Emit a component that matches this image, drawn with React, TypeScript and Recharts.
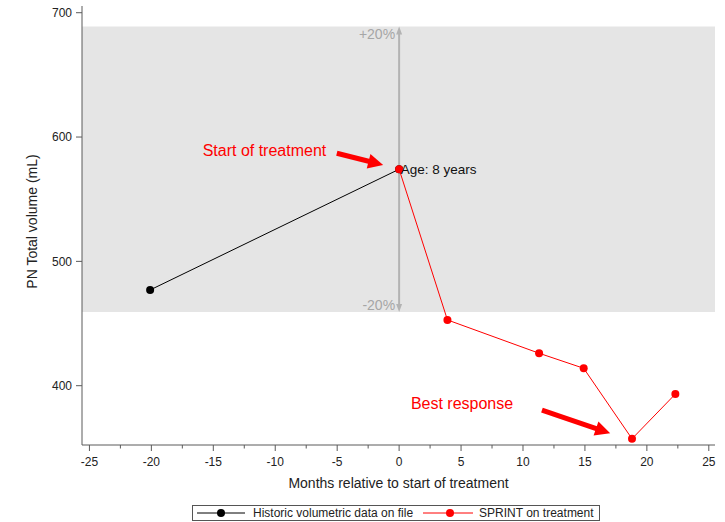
import React from 'react';
import {
  LineChart,
  Line,
  XAxis,
  YAxis,
  ReferenceArea,
  ReferenceLine,
  ReferenceDot,
} from 'recharts';

// ── Data ────────────────────────────────────────────────────────────────
const historic = [
  { x: -20.1, y: 477.0 },
  { x: 0, y: 574.1 },
];

const sprint = [
  { x: 0, y: 574.1 },
  { x: 3.9, y: 452.9 },
  { x: 11.3, y: 426.1 },
  { x: 14.9, y: 414.0 },
  { x: 18.8, y: 357.3 },
  { x: 22.3, y: 393.3 },
];

const seriesNames = ['Historic volumetric data on file', 'SPRINT on treatment'];
const seriesColors = ['#000000', '#ff0000'];

const xTicks = [
  -25, -22.5, -20, -17.5, -15, -12.5, -10, -7.5, -5, -2.5, 0, 2.5, 5, 7.5, 10, 12.5, 15, 17.5,
  20, 22.5, 25,
];
const xLabels = [-25, -20, -15, -10, -5, 0, 5, 10, 15, 20, 25];
const yTicks = [400, 500, 600, 700];

const baseline = 574.1;
const bandPct = 0.2;
const bandLabels = ['+20%', '-20%'];

const notes = [
  { text: 'Start of treatment', x: -15.86, y: 588.8 },
  { text: 'Best response', x: 0.95, y: 385.3 },
];
const ageNote = { text: 'Age: 8 years', x: 0.13, y: 574.1 };

const arrows = [
  { from: { x: -5.03, y: 587.0 }, to: { x: -1.29, y: 577.6 } },
  { from: { x: 11.53, y: 380.4 }, to: { x: 17.04, y: 361.7 } },
];

const FONT = '"Liberation Sans", Arial, Helvetica, sans-serif';
const AXIS = '#5a5a5a';

const XTick = (props: any) => {
  const { x, y, payload } = props;
  const v = payload.value;
  const major = xLabels.includes(v);
  return (
    <g>
      <line x1={x} x2={x} y1={y} y2={y + (major ? 6 : 3.5)} stroke={AXIS} />
      {major && (
        <text x={x} y={y + 17} textAnchor="middle" dominantBaseline="central" fontSize={12} fill="#222">
          {v}
        </text>
      )}
    </g>
  );
};

const redArrow = (p: any) => {
  const { x1, y1, x2, y2 } = p;
  const dx = x2 - x1;
  const dy = y2 - y1;
  const len = Math.hypot(dx, dy);
  const ux = dx / len;
  const uy = dy / len;
  const nx = -uy;
  const ny = ux;
  const L = 15;
  const W = 7.5;
  const bx = x2 - ux * L;
  const by = y2 - uy * L;
  return (
    <g>
      <line x1={x1} y1={y1} x2={bx + ux} y2={by + uy} stroke="#ff0000" strokeWidth={5} />
      <polygon
        points={`${x2},${y2} ${bx + nx * W},${by + ny * W} ${bx - nx * W},${by - ny * W}`}
        fill="#ff0000"
      />
    </g>
  );
};

const bandArrow = (p: any) => {
  const { x1, y1, y2 } = p;
  const top = Math.min(y1, y2);
  const bottom = Math.max(y1, y2);
  const c = '#b3b3b3';
  return (
    <g>
      <line x1={x1} x2={x1} y1={top + 6} y2={bottom - 6} stroke={c} strokeWidth={2} />
      <polygon points={`${x1},${top} ${x1 - 3},${top + 8} ${x1 + 3},${top + 8}`} fill={c} />
      <polygon points={`${x1},${bottom} ${x1 - 3},${bottom - 8} ${x1 + 3},${bottom - 8}`} fill={c} />
      <text x={x1 - 4} y={top + 8} textAnchor="end" dominantBaseline="central" fontSize={14} fill="#a6a6a6">
        {bandLabels[0]}
      </text>
      <text x={x1 - 4} y={bottom - 7} textAnchor="end" dominantBaseline="central" fontSize={14} fill="#a6a6a6">
        {bandLabels[1]}
      </text>
    </g>
  );
};

const noteText = (text: string, size: number, color: string) => (p: any) => (
  <text x={p.cx} y={p.cy} dominantBaseline="central" fontSize={size} fill={color}>
    {text}
  </text>
);

export default function App() {
  const bandHigh = baseline * (1 + bandPct);
  const bandLow = baseline * (1 - bandPct);

  return (
    <div style={{ position: 'absolute', left: 0, top: 0, width: 725, height: 522, fontFamily: FONT, background: '#fff' }}>
      <LineChart
        width={725}
        height={522}
        margin={{ top: 6, right: 10, bottom: 47, left: 0 }}
        style={{ fontFamily: FONT }}
      >
        <XAxis
          type="number"
          dataKey="x"
          domain={[-25.6, 25.5]}
          ticks={xTicks}
          interval={0}
          allowDataOverflow
          height={30}
          tick={<XTick />}
          tickSize={0}
          tickMargin={0}
          tickLine={false}
          axisLine={{ stroke: AXIS }}
          label={{
            content: (p: any) => {
              const vb = p.viewBox || { x: 82, y: 445, width: 633 };
              return (
                <text x={vb.x + vb.width / 2} y={vb.y + 38} textAnchor="middle" dominantBaseline="central" fontSize={14} fill="#222">
                  Months relative to start of treatment
                </text>
              );
            },
          }}
        />
        <YAxis
          type="number"
          domain={[352.3, 705.4]}
          ticks={yTicks}
          allowDataOverflow
          width={82}
          tickSize={6}
          tickMargin={4}
          tick={{ fontSize: 12, fill: '#222' }}
          tickLine={{ stroke: AXIS }}
          axisLine={{ stroke: AXIS }}
          label={{
            content: (p: any) => {
              const vb = p.viewBox || { x: 0, y: 6, height: 439 };
              const cx = 32;
              const cy = vb.y + vb.height / 2 - 4;
              return (
                <text x={cx} y={cy} transform={`rotate(-90 ${cx} ${cy})`} textAnchor="middle" dominantBaseline="central" fontSize={14} fill="#222">
                  PN Total volume (mL)
                </text>
              );
            },
          }}
        />
        <ReferenceArea y1={bandLow} y2={bandHigh} fill="#e5e5e5" fillOpacity={1} stroke="none" />
        <ReferenceLine
          segment={[
            { x: 0, y: bandLow },
            { x: 0, y: bandHigh },
          ]}
          shape={bandArrow}
        />
        <Line
          data={historic}
          dataKey="y"
          name={seriesNames[0]}
          stroke={seriesColors[0]}
          strokeWidth={1}
          dot={{ r: 4, fill: seriesColors[0], stroke: 'none' }}
          isAnimationActive={false}
        />
        <Line
          data={sprint}
          dataKey="y"
          name={seriesNames[1]}
          stroke={seriesColors[1]}
          strokeWidth={1}
          dot={{ r: 4, fill: seriesColors[1], stroke: 'none' }}
          isAnimationActive={false}
        />
        {arrows.map((a, i) => (
          <ReferenceLine key={`arrow-${i}`} segment={[a.from, a.to]} shape={redArrow} />
        ))}
        {notes.map((n, i) => (
          <ReferenceDot key={`note-${i}`} x={n.x} y={n.y} r={0} shape={noteText(n.text, 16, '#ff0000')} />
        ))}
        <ReferenceDot x={ageNote.x} y={ageNote.y} r={0} shape={noteText(ageNote.text, 13.5, '#111')} />
      </LineChart>

      {/* legend */}
      <div
        style={{
          position: 'absolute',
          left: 192,
          top: 505,
          width: 408,
          height: 16,
          boxSizing: 'border-box',
          border: '1px solid #555',
          display: 'flex',
          alignItems: 'center',
          fontSize: 12,
          color: '#222',
          whiteSpace: 'nowrap',
        }}
      >
        {seriesNames.map((name, i) => (
          <React.Fragment key={name}>
            <svg width={i === 0 ? 48 : 50} height={10} style={{ marginLeft: i === 0 ? 4 : 10, flex: 'none' }}>
              <line x1={0} x2={i === 0 ? 48 : 50} y1={5} y2={5} stroke={seriesColors[i]} strokeWidth={1} />
              <circle cx={i === 0 ? 24 : 27} cy={5} r={4} fill={seriesColors[i]} />
            </svg>
            <span style={{ marginLeft: i === 0 ? 8 : 6 }}>{name}</span>
          </React.Fragment>
        ))}
      </div>
    </div>
  );
}
